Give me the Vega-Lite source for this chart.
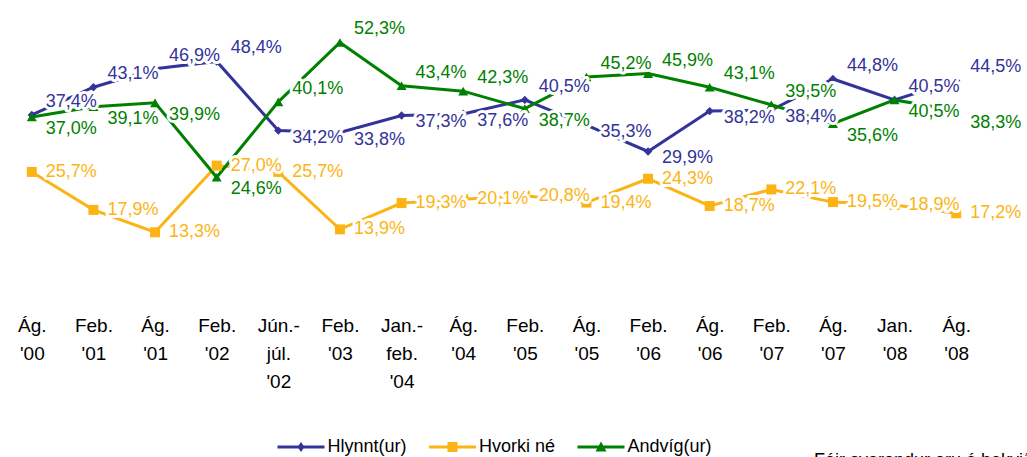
{
  "$schema": "https://vega.github.io/schema/vega-lite/v6.json",
  "width": 986,
  "height": 292,
  "autosize": {"type": "none"},
  "padding": {"left": 1, "top": 5, "right": 40, "bottom": 160},
  "background": "white",
  "config": {
    "view": {"stroke": null},
    "font": "Liberation Sans",
    "text": {"font": "Liberation Sans"}
  },
  "title": {"text": "Fáir svarendur eru á bakvið", "orient": "bottom", "anchor": "start", "dx": 813, "offset": -4, "fontSize": 18, "fontWeight": "normal", "font": "Liberation Sans", "color": "black", "baseline": "top"},
  "data": {
    "values": [
      {"p": "Ág.|'00", "H": 37.4, "N": 25.7, "A": 37.0},
      {"p": "Feb.|'01", "H": 43.1, "N": 17.9, "A": 39.1},
      {"p": "Ág.|'01", "H": 46.9, "N": 13.3, "A": 39.9},
      {"p": "Feb.|'02", "H": 48.4, "N": 27.0, "A": 24.6},
      {"p": "Jún.-|júl.|'02", "H": 34.2, "N": 25.7, "A": 40.1},
      {"p": "Feb.|'03", "H": 33.8, "N": 13.9, "A": 52.3},
      {"p": "Jan.-|feb.|'04", "H": 37.3, "N": 19.3, "A": 43.4},
      {"p": "Ág.|'04", "H": 37.6, "N": 20.1, "A": 42.3},
      {"p": "Feb.|'05", "H": 40.5, "N": 20.8, "A": 38.7},
      {"p": "Ág.|'05", "H": 35.3, "N": 19.4, "A": 45.2},
      {"p": "Feb.|'06", "H": 29.9, "N": 24.3, "A": 45.9},
      {"p": "Ág.|'06", "H": 38.2, "N": 18.7, "A": 43.1},
      {"p": "Feb.|'07", "H": 38.4, "N": 22.1, "A": 39.5},
      {"p": "Ág.|'07", "H": 44.8, "N": 19.5, "A": 35.6},
      {"p": "Jan.|'08", "H": 40.5, "N": 18.9, "A": 40.5},
      {"p": "Ág.|'08", "H": 44.5, "N": 17.2, "A": 38.3}
    ]
  },
  "encoding": {
    "x": {
      "field": "p", "type": "nominal", "sort": null,
      "scale": {"type": "point", "padding": 0.5},
      "axis": {
        "title": null, "domain": false, "ticks": false, "labelAngle": 0,
        "labelExpr": "split(datum.label, '|')",
        "labelLineHeight": 28, "labelFontSize": 19, "labelColor": "black",
        "labelFont": "Liberation Sans", "labelPadding": 19, "labelOverlap": false,
        "labelBaseline": "top"
      }
    },
    "y": {"field": "value", "type": "quantitative", "scale": {"domain": [0, 60]}, "axis": null}
  },
  "layer": [
    {
      "transform": [{"fold": ["N", "H", "A"], "as": ["key", "value"]}],
      "mark": {"type": "line", "strokeWidth": 3},
      "encoding": {
        "color": {
          "field": "key", "type": "nominal",
          "scale": {"domain": ["H", "N", "A"], "range": ["#333399", "#FCB414", "#008000"]},
          "legend": {
            "orient": "none", "legendX": 290, "legendY": 432, "direction": "horizontal",
            "title": null, "symbolSize": 400, "labelOffset": 16.5, "columnPadding": 21.5,
            "labelFontSize": 18, "labelFont": "Liberation Sans", "labelColor": "black",
            "labelExpr": "datum.value == 'H' ? 'Hlynnt(ur)' : datum.value == 'N' ? 'Hvorki né' : 'Andvíg(ur)'",
            "encode": {
              "symbols": {
                "update": {
                  "shape": {"signal": "datum.value == 'H' ? 'M-2.35,-0.15H2.35V0.15H-2.35Z M0,-0.5L0.35,0L0,0.5L-0.35,0Z' : datum.value == 'N' ? 'M-2.35,-0.15H2.35V0.15H-2.35Z M-0.5,-0.5H0.5V0.5H-0.5Z' : 'M-2.35,-0.15H2.35V0.15H-2.35Z M0,-0.55L0.55,0.45H-0.55Z'"},
                  "fill": {"signal": "datum.value == 'H' ? '#333399' : datum.value == 'N' ? '#FCB414' : '#008000'"},
                  "strokeWidth": {"value": 0},
                  "opacity": {"value": 1}
                }
              }
            }
          }
        }
      }
    },
    {
      "transform": [{"fold": ["N"], "as": ["key", "value"]}],
      "mark": {"type": "point", "filled": true, "opacity": 1, "size": 100, "shape": "square", "color": "#FCB414"}
    },
    {
      "transform": [{"fold": ["H"], "as": ["key", "value"]}],
      "mark": {"type": "point", "filled": true, "opacity": 1, "size": 70, "shape": "diamond", "color": "#333399"}
    },
    {
      "transform": [{"fold": ["A"], "as": ["key", "value"]}],
      "mark": {"type": "point", "filled": true, "opacity": 1, "size": 100, "shape": "triangle-up", "color": "#008000"}
    },
    {
      "transform": [
        {"calculate": "replace(format(datum.N, '.1f'), '.', ',') + '%'", "as": "lbl"},
        {"fold": ["N"], "as": ["key", "value"]}
      ],
      "mark": {"type": "text", "align": "left", "baseline": "middle", "dx": 14, "fontSize": 18, "color": "white", "stroke": "white", "strokeWidth": 6, "strokeJoin": "round"},
      "encoding": {"text": {"field": "lbl"}}
    },
    {
      "transform": [
        {"calculate": "replace(format(datum.H, '.1f'), '.', ',') + '%'", "as": "lbl"},
        {"fold": ["H"], "as": ["key", "value"]}
      ],
      "mark": {"type": "text", "align": "left", "baseline": "middle", "dx": 14, "fontSize": 18, "color": "white", "stroke": "white", "strokeWidth": 6, "strokeJoin": "round",
        "dy": {"expr": "datum.H >= datum.A ? -13 : 7"}},
      "encoding": {"text": {"field": "lbl"}}
    },
    {
      "transform": [
        {"calculate": "replace(format(datum.A, '.1f'), '.', ',') + '%'", "as": "lbl"},
        {"fold": ["A"], "as": ["key", "value"]}
      ],
      "mark": {"type": "text", "align": "left", "baseline": "middle", "dx": 14, "fontSize": 18, "color": "white", "stroke": "white", "strokeWidth": 6, "strokeJoin": "round",
        "dy": {"expr": "datum.A > datum.H ? -13 : 12"}},
      "encoding": {"text": {"field": "lbl"}}
    },
    {
      "transform": [
        {"calculate": "replace(format(datum.N, '.1f'), '.', ',') + '%'", "as": "lbl"},
        {"fold": ["N"], "as": ["key", "value"]}
      ],
      "mark": {"type": "text", "align": "left", "baseline": "middle", "dx": 14, "fontSize": 18, "color": "#FCB414"},
      "encoding": {"text": {"field": "lbl"}}
    },
    {
      "transform": [
        {"calculate": "replace(format(datum.H, '.1f'), '.', ',') + '%'", "as": "lbl"},
        {"fold": ["H"], "as": ["key", "value"]}
      ],
      "mark": {"type": "text", "align": "left", "baseline": "middle", "dx": 14, "fontSize": 18, "color": "#333399",
        "dy": {"expr": "datum.H >= datum.A ? -13 : 7"}},
      "encoding": {"text": {"field": "lbl"}}
    },
    {
      "transform": [
        {"calculate": "replace(format(datum.A, '.1f'), '.', ',') + '%'", "as": "lbl"},
        {"fold": ["A"], "as": ["key", "value"]}
      ],
      "mark": {"type": "text", "align": "left", "baseline": "middle", "dx": 14, "fontSize": 18, "color": "#008000",
        "dy": {"expr": "datum.A > datum.H ? -13 : 12"}},
      "encoding": {"text": {"field": "lbl"}}
    }
  ]
}
